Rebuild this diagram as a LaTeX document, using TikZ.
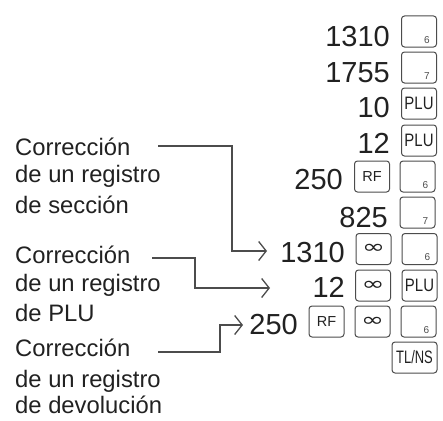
\documentclass[tikz,border=0pt]{standalone}
\usepackage{fontspec}
\setmainfont{Liberation Sans}
\newfontfamily\symfont{DejaVu Sans}
\usetikzlibrary{arrows.meta}
\definecolor{ink}{gray}{0.13}
\definecolor{keyline}{gray}{0.3}
\definecolor{wireline}{gray}{0.3}
\newcommand{\fs}[1]{\fontsize{#1}{#1}\selectfont}
\newcommand{\loopsym}{\scalebox{1.45}[1]{\symfont\fs{19}∞}}
\newcommand{\numkey}[4]{%
  \node[keybox] (#1) at (#2,#3) {};
  \node[keydigit] (#1d) at ([shift={(-6.5,-3.5)}]#1.south east) {#4};}
\tikzset{
  x=1pt,y=-1pt,
  numlabel/.style={anchor=base east,inner sep=0pt,text=ink,font=\fs{29}},
  sidetext/.style={anchor=base west,inner sep=0pt,text=ink,font=\fs{23.8}},
  keybox/.style={draw=keyline,line width=1pt,rounded corners=3pt,minimum width=35pt,minimum height=31pt,inner sep=0pt,outer sep=0pt,text=ink},
  keydigit/.style={anchor=south east,inner sep=0pt,text=keyline,font=\fs{10}},
  wire/.style={draw=wireline,line width=1.3pt},
  wirearrow/.style={wire,-{Straight Barb[length=7.5pt,width=19pt,line width=1.3pt]}}
}
\begin{document}
\begin{tikzpicture}
\useasboundingbox (0,0) rectangle (443,420);
% numbers
\node[numlabel] (n1) at (390,46) {1310};
\node[numlabel] (n2) at (390,82) {1755};
\node[numlabel] (n3) at (390,117) {10};
\node[numlabel] (n4) at (390,153) {12};
\node[numlabel] (n5) at (343,189) {250};
\node[numlabel] (n6) at (388,227) {825};
\node[numlabel] (n7) at (345,262) {1310};
\node[numlabel] (n8) at (345,297) {12};
\node[numlabel] (n9) at (298,334) {250};
% keys
\numkey{k1}{419}{31.5}{6}
\numkey{k2}{419}{67.5}{7}
\node[keybox] (k3) at (419,103.5) {\scalebox{0.83}[1]{\fs{18}PLU}};
\node[keybox] (k4) at (419,140.5) {\scalebox{0.83}[1]{\fs{18}PLU}};
\node[keybox] (k5) at (372,176.5) {\fs{14.5}RF};
\numkey{k6}{417.5}{176.5}{6}
\numkey{k7}{417.5}{212.5}{7}
\node[keybox] (k8) at (373.5,249) {\loopsym};
\numkey{k9}{419.5}{249}{6}
\node[keybox] (k10) at (373,285.5) {\loopsym};
\node[keybox] (k11) at (419.5,285.5) {\scalebox{0.83}[1]{\fs{18}PLU}};
\node[keybox] (k12) at (326.5,321.5) {\fs{14.5}RF};
\node[keybox] (k13) at (372.5,321.5) {\loopsym};
\numkey{k14}{418.5}{321.5}{6}
\node[keybox,minimum width=45pt] (k15) at (414.5,357.5) {\scalebox{0.72}[1]{\fs{18}TL/NS}};
% side labels
\node[sidetext] (a1) at (15,155) {Corrección};
\node[sidetext] (a2) at (15,182) {de un registro};
\node[sidetext] (a3) at (15,213) {de sección};
\node[sidetext] (b1) at (15,263) {Corrección};
\node[sidetext] (b2) at (15,291) {de un registro};
\node[sidetext] (b3) at (15,321) {de PLU};
\node[sidetext] (c1) at (15,356) {Corrección};
\node[sidetext] (c2) at (15,387) {de un registro};
\node[sidetext] (c3) at (15,413) {de devolución};
% connectors
\draw[wirearrow] ([shift={(143,-9)}]a1.base west) -| ([shift={(-113,-11)}]n7.base east) -- ([shift={(-78,-11)}]n7.base east);
\draw[wirearrow] ([shift={(137,-5)}]b1.base west) -| ([shift={(-150,-9)}]n8.base east) -- ([shift={(-75,-9)}]n8.base east);
\draw[wirearrow] ([shift={(143,-4)}]c1.base west) -| ([shift={(-78,-9)}]n9.base east) -- ([shift={(-55,-9)}]n9.base east);
\end{tikzpicture}
\end{document}
